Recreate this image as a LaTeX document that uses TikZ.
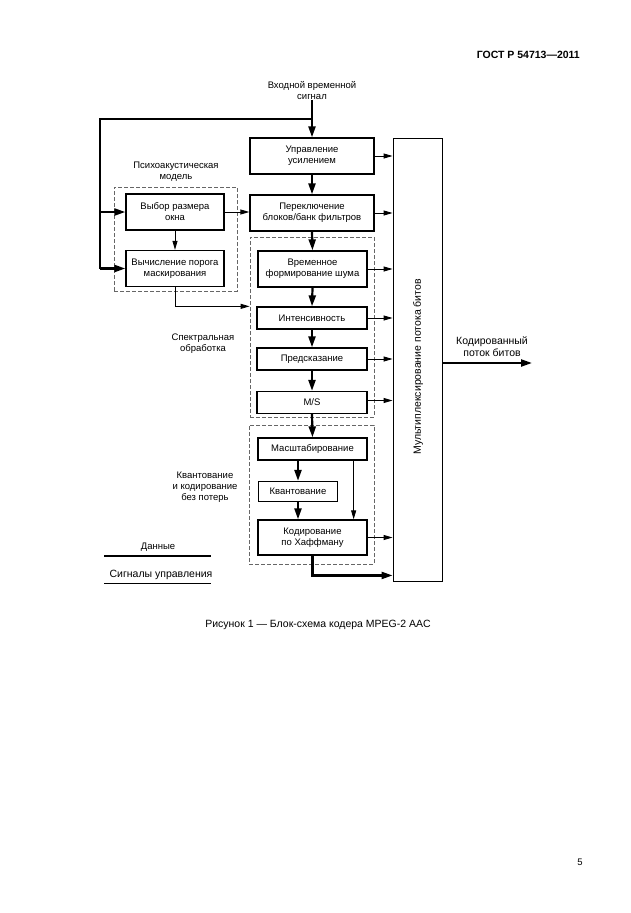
\documentclass[tikz,border=0pt]{standalone}
\usepackage{fontspec}
\setmainfont{Liberation Sans}
\usetikzlibrary{arrows.meta}

\tikzset{
  block/.style={draw, line width=1.3pt, inner sep=1pt, align=center, font=\fontsize{9.5}{11}\selectfont},
  group/.style={draw=black!60, dash pattern=on 4pt off 2pt, line width=0.8pt},
  txt/.style={align=center, inner sep=0pt, font=\fontsize{9.5}{11}\selectfont},
  bigtxt/.style={txt, font=\fontsize{10.5}{12}\selectfont},
  dataline/.style={line width=2.2pt},
  dataflow/.style={dataline, -{Triangle[length=11pt,width=7pt]}},
  ctlline/.style={line width=0.9pt},
  ctlflow/.style={ctlline, -{Triangle[length=9pt,width=5pt]}},
}

\begin{document}
\begin{tikzpicture}[x=1pt, y=-1pt]
        \useasboundingbox (0,0) rectangle (630,913);

        % header, caption, page number
        \node[anchor=east, inner sep=0pt, font=\bfseries\fontsize{10.5}{12}\selectfont] (gost) at (580,55) {ГОСТ Р 54713—2011};
        \node[bigtxt] (caption) at (318,625) {Рисунок 1 — Блок-схема кодера MPEG-2 AAC};
        \node[txt] (page) at (580,862) {5};

        % groups
        \node[group, minimum width=123, minimum height=104] (psy) at (175.5,239) {};
        \node[group, minimum width=124, minimum height=180] (spec) at (312,327) {};
        \node[group, minimum width=125, minimum height=139] (quan) at (311.5,494.5) {};
        \node[txt] (psylbl) at (176,172) {Психоакустическая\\модель};
        \node[txt] (speclbl) at (203,344) {Спектральная\\обработка};
        \node[txt] (quanlbl) at (205,487) {Квантование\\и кодирование\\без потерь};

        % blocks
        \node[txt] (input) at (312,91) {Входной временной\\сигнал};
        \node[block, minimum width=124, minimum height=36] (gain) at (312,156) {Управление\\усилением};
        \node[block, minimum width=124, minimum height=36] (filt) at (312,213) {Переключение\\блоков/банк фильтров};
        \node[block, minimum width=98, minimum height=36] (win) at (175,212) {Выбор размера\\окна};
        \node[block, minimum width=98, minimum height=36] (mask) at (175,268.5) {Вычисление порога\\маскирования};
        \node[block, minimum width=109, minimum height=36] (tns) at (312.5,269) {Временное\\формирование шума};
        \node[block, minimum width=110, minimum height=22] (intens) at (312,318) {Интенсивность};
        \node[block, minimum width=110, minimum height=22] (pred) at (312,359) {Предсказание};
        \node[block, minimum width=110, minimum height=22] (ms) at (312,402.5) {M/S};
        \node[block, minimum width=109, minimum height=22] (scale) at (312.5,449) {Масштабирование};
        \node[block, minimum width=79, minimum height=20] (quant) at (298,491.5) {Квантование};
        \node[block, minimum width=109, minimum height=35] (huff) at (312.5,537.5) {Кодирование\\по Хаффману};
        \node[draw, line width=0.9pt, minimum width=49, minimum height=443] (mux) at (417.5,359.5) {};
        \node[bigtxt, rotate=90] (muxlbl) at (418,367) {Мультиплексирование потока битов};

        % input and data path
        \coordinate (split) at (312,119);
        \coordinate (left) at (100,119);
        \draw[dataflow] (input.south) -- (gain.north);
        \draw[dataline] (split) -- (left) -- (left |- mask.west);
        \draw[dataflow] (left |- win.west) -- (win.west);
        \draw[dataflow] (left |- mask.west) -- (mask.west);
        \draw[dataflow] (gain.south) -- (filt.north);
        \draw[dataflow] (filt.south) -- (tns.north);
        \draw[dataflow] (tns.south) -- (intens.north);
        \draw[dataflow] (intens.south) -- (pred.north);
        \draw[dataflow] (pred.south) -- (ms.north);
        \draw[dataflow] (ms.south) -- (scale.north);
        \draw[dataflow] (scale.south -| quant.north) -- (quant.north);
        \draw[dataflow] (quant.south) -- (quant.south |- huff.north);
        \draw[dataflow] (huff.south) |- ([yshift=6pt]mux.south west);

        % control signals
        \draw[ctlflow] (win.east) -- (win.east -| filt.west);
        \draw[ctlflow] (win.south) -- (mask.north);
        \draw[ctlflow] (mask.south) |- (spec.west |- intens.north);
        \draw[ctlflow] ([xshift=-14pt]scale.south east) -- ([xshift=-14pt]scale.south east |- huff.north);
        \draw[ctlflow] (gain.east) -- (gain.east -| mux.west);
        \draw[ctlflow] (filt.east) -- (filt.east -| mux.west);
        \draw[ctlflow] (tns.east) -- (tns.east -| mux.west);
        \draw[ctlflow] (intens.east) -- (intens.east -| mux.west);
        \draw[ctlflow] (pred.east) -- (pred.east -| mux.west);
        \draw[ctlflow] ([yshift=2pt]ms.east) -- ([yshift=2pt]ms.east -| mux.west);
        \draw[ctlflow] (huff.east) -- (huff.east -| mux.west);

        % output
        \coordinate (out) at (532,363);
        \node[bigtxt] (outlbl) at (492,347) {Кодированный\\поток битов};
        \draw[dataflow] (mux.east |- out) -- (out);

        % legend
        \node[txt] (lgdata) at (158,547) {Данные};
        \node[bigtxt] (lgctl) at (161,575) {Сигналы управления};
        \coordinate (d1) at (104,556);
        \coordinate (d2) at (211,556);
        \coordinate (c1) at (104,583);
        \coordinate (c2) at (211,583);
        \draw[dataline] (d1) -- (d2);
        \draw[ctlline] (c1) -- (c2);
\end{tikzpicture}
\end{document}
